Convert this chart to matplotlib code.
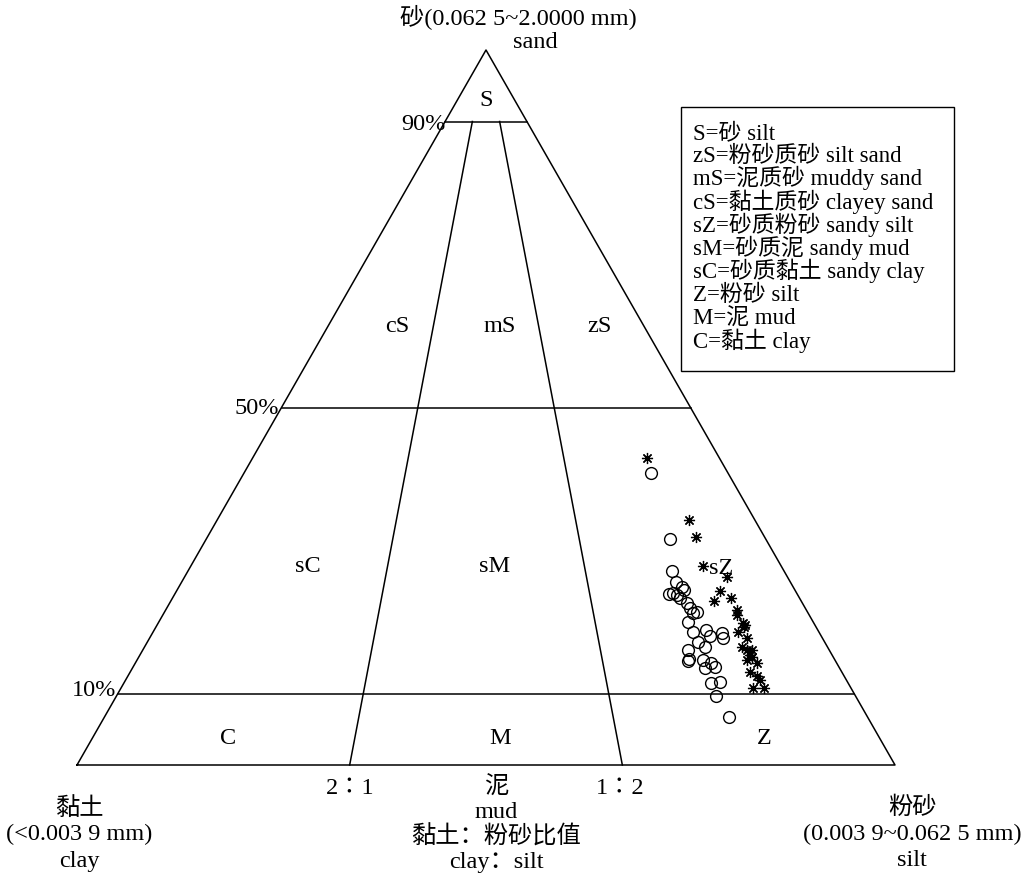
import numpy as np
import matplotlib
matplotlib.use("Agg")
from matplotlib import pyplot as plt

plt.rcParams['font.family'] = ['Liberation Serif', 'DejaVu Serif', 'Noto Sans CJK SC']

# sand / silt content (%) of the samples, clay is the rest
circle_sand = [40.8, 31.6, 27.1, 25.6, 24.9, 24.5, 23.9, 23.8, 23.4, 24.1, 22.7,
               22.0, 21.4, 21.3, 20.0, 18.6, 18.9, 18.0, 18.5, 17.8, 17.2, 16.5,
               16.1, 14.8, 14.5, 14.7, 14.3, 13.7, 13.6, 11.5, 11.6, 9.7, 6.7]
circle_silt = [49.8, 56.7, 59.2, 60.4, 61.5, 61.9, 60.4, 61.4, 62.0, 60.8, 63.2,
               63.9, 65.1, 64.6, 64.7, 66.0, 67.4, 68.4, 69.6, 70.1, 67.3, 68.5,
               66.7, 67.4, 67.4, 69.2, 70.3, 71.1, 70.0, 71.7, 72.8, 73.3, 76.3]

star_sand = [42.9, 34.3, 31.9, 27.8, 26.3, 24.3, 22.9, 23.4, 21.7, 21.0, 19.9,
             19.3, 18.6, 17.8, 16.5, 16.1, 16.1, 15.4, 15.1, 14.7, 14.3, 13.0,
             12.4, 11.9, 10.8, 10.8, 19.6]
star_silt = [48.2, 57.7, 59.7, 62.6, 66.3, 66.4, 66.4, 68.3, 69.8, 70.2, 71.5,
             71.9, 71.5, 73.0, 73.0, 73.8, 74.5, 74.6, 75.0, 74.6, 76.0, 75.8,
             76.9, 77.5, 77.2, 78.6, 71.9]

sand_levels = [90, 50, 10]
ratio_lines = [1 / 3, 2 / 3]   # silt share of mud: 2:1 and 1:2 clay:silt

legend_lines = ['S=砂 silt', 'zS=粉砂质砂 silt sand', 'mS=泥质砂 muddy sand',
                'cS=黏土质砂 clayey sand', 'sZ=砂质粉砂 sandy silt',
                'sM=砂质泥 sandy mud', 'sC=砂质黏土 sandy clay', 'Z=粉砂 silt',
                'M=泥 mud', 'C=黏土 clay']

W, H = 1024, 883
X0, X1, YB, YT = 77, 895, 765, 50


def to_xy(sand, silt):
    s = np.asarray(sand) / 100.0
    return np.asarray(silt) / 100.0 + s / 2, s


def px(x, y):
    # pixel position -> data coords
    return (x - X0) / (X1 - X0), (YB - y) / (YB - YT)


fig = plt.figure(figsize=(W / 100, H / 100), dpi=100)
ax = fig.add_axes([0, 0, 1, 1])
ax.set_xlim(px(0, 0)[0], px(W, 0)[0])
ax.set_ylim(px(0, H)[1], px(0, 0)[1])
ax.axis('off')

lw = 1.1
ax.plot([0, 1, 0.5, 0], [0, 0, 1, 0], color='black', lw=lw)
for lv in sand_levels:
    s = lv / 100
    ax.plot([s / 2, 1 - s / 2], [s, s], color='black', lw=lw)
for r in ratio_lines:
    s = 0.9
    ax.plot([r, (1 - s) * r + s / 2], [0, s], color='black', lw=lw)

cx, cy = to_xy(circle_sand, circle_silt)
ax.plot(cx, cy, 'o', mfc='none', mec='black', ms=8.5, mew=1.0, ls='none')
sx, sy = to_xy(star_sand, star_silt)
ax.plot(sx, sy, marker=(8, 2, 0), color='black', ms=8, mew=0.9, ls='none')

fs = 17.5
def t(x, y, s, ha='center', va='center', size=fs):
    ax.text(*px(x, y), s, ha=ha, va=va, fontsize=size)

t(518, 18, '砂(0.062 5~2.0000 mm)')
t(513, 42, 'sand', ha='left')
t(486, 100, 'S')
t(446, 124, '90%', ha='right')
t(279, 408, '50%', ha='right')
t(116, 690, '10%', ha='right')
for x, y, s in [(397, 327, 'cS'), (500, 327, 'mS'), (600, 327, 'zS'),
                (308, 567, 'sC'), (495, 567, 'sM'), (721, 568, 'sZ'),
                (228, 738, 'C'), (500, 738, 'M'), (764, 738, 'Z')]:
    t(x, y, s)
t(350, 789, '2∶1')
t(620, 789, '1∶2')
for i, s in enumerate(['泥', 'mud', '黏土：粉砂比值', 'clay：silt']):
    t(496, 788 + i * 24.7, s)
for i, s in enumerate(['黏土', '(<0.003 9 mm)', 'clay']):
    t(79, 808 + i * 26.5, s)
for i, s in enumerate(['粉砂', '(0.003 9~0.062 5 mm)', 'silt']):
    t(912, 808 + i * 26.5, s)

# legend box
bx0, by0 = px(681, 371)
bx1, by1 = px(954, 107)
ax.add_patch(plt.Rectangle((bx0, by0), bx1 - bx0, by1 - by0, fill=False,
                           ec='black', lw=1.0))
for i, s in enumerate(legend_lines):
    t(693, 139 + i * 23.2, s, ha='left', va='baseline', size=16.5)

fig.savefig('out.png', dpi=100)
